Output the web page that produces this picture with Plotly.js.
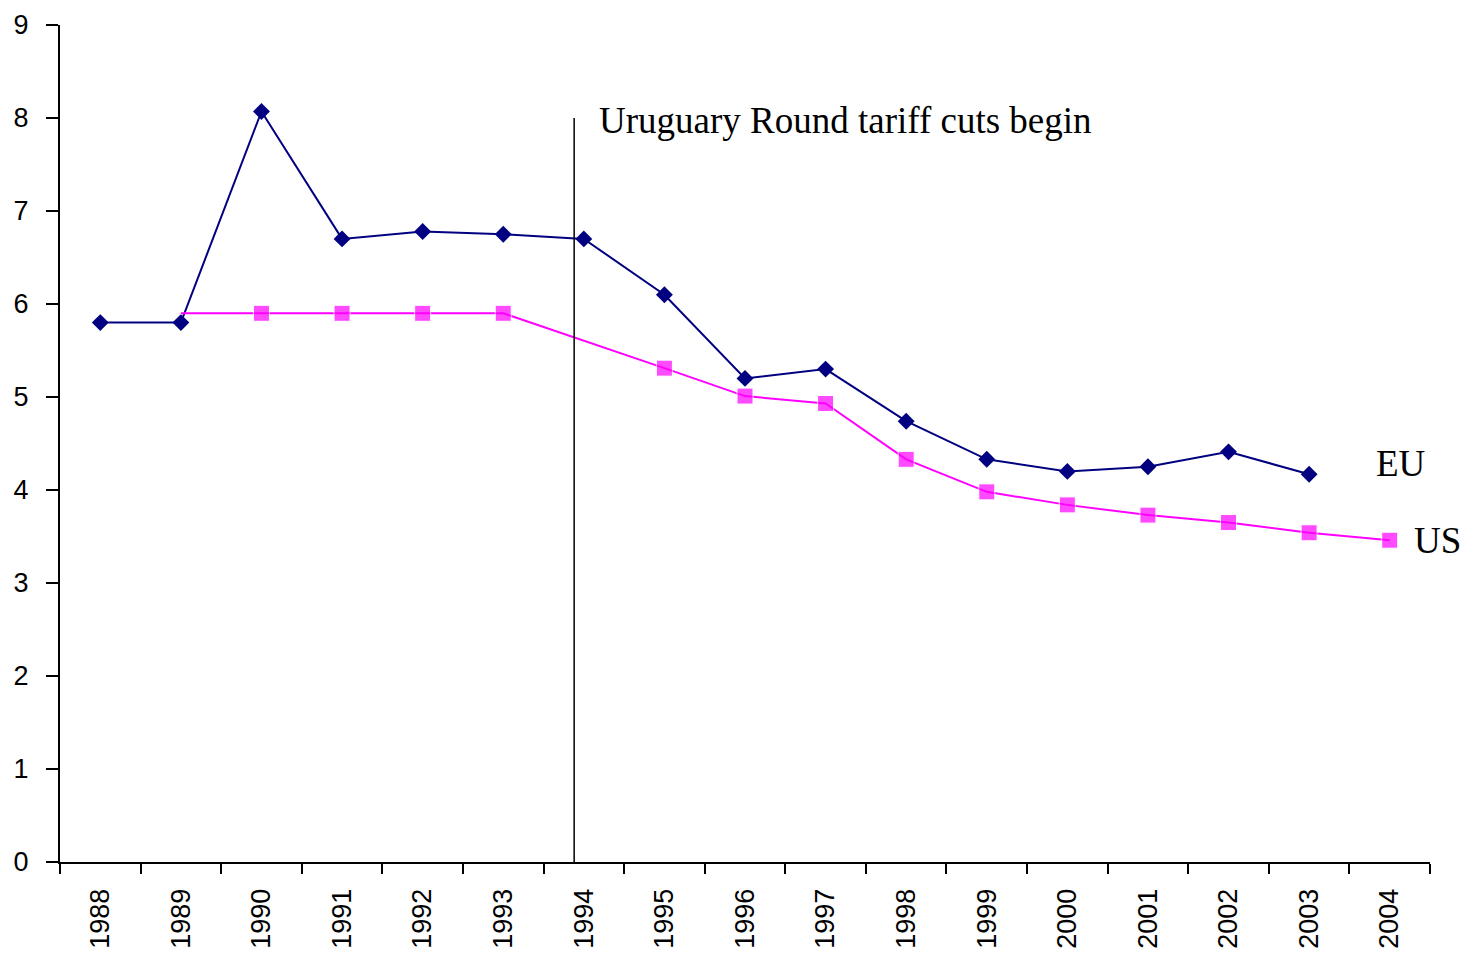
<!DOCTYPE html>
<html>
<head>
<meta charset="utf-8">
<script src="https://cdn.plot.ly/plotly-3.0.1.min.js"></script>
<style>html,body{margin:0;padding:0;background:#fff;}#chart{width:1465px;height:962px;}</style>
</head>
<body>
<div id="chart"></div>
<script>
const years = ["1988","1989","1990","1991","1992","1993","1994","1995","1996","1997","1998","1999","2000","2001","2002","2003","2004"];
const euValues = [5.8, 5.8, 8.07, 6.7, 6.78, 6.75, 6.7, 6.1, 5.2, 5.3, 4.74, 4.33, 4.2, 4.25, 4.41, 4.17, null];
const usValues = [null, 5.9, 5.9, 5.9, 5.9, 5.9, null, 5.31, 5.01, 4.93, 4.33, 3.98, 3.84, 3.73, 3.65, 3.54, 3.46];
const seriesNames = ["EU", "US"];
const eventLabel = "Uruguary Round tariff cuts begin";
const eventPosition = 5.88;   // category-axis position of the vertical marker (just left of 1994)
const eventTop = 8;

// US marker not drawn for the first year of its line
const usMarkerSizes = usValues.map((v, i) => (i === 1 ? 0 : 16));

const traces = [
  {
    x: years, y: euValues, type: "scatter", mode: "lines+markers", name: seriesNames[0],
    line: {color: "#000080", width: 2},
    marker: {symbol: "diamond", size: 13, color: "#000080"},
    connectgaps: false, cliponaxis: false
  },
  {
    x: years, y: usValues, type: "scatter", mode: "lines+markers", name: seriesNames[1],
    line: {color: "#FF00FF", width: 2},
    marker: {symbol: "square", size: usMarkerSizes, color: "#FF00FF"},
    connectgaps: true, cliponaxis: false
  }
];

const euLast = euValues.reduce((a, v, i) => (v !== null ? i : a), 0);
const usLast = usValues.reduce((a, v, i) => (v !== null ? i : a), 0);
const labelFont = {family: "Liberation Serif, Times New Roman", size: 37, color: "#000"};

const layout = {
  width: 1465, height: 962,
  margin: {l: 60, r: 35, t: 25, b: 100},
  paper_bgcolor: "#fff", plot_bgcolor: "#fff",
  showlegend: false,
  xaxis: {
    type: "category", range: [-0.5, years.length - 0.5],
    tickson: "boundaries", ticks: "outside", ticklen: 10, tickwidth: 2, tickcolor: "#000",
    tickangle: -90, ticklabelstandoff: 14,
    tickfont: {family: "Liberation Sans, Arial", size: 27, color: "#000"},
    showline: true, linecolor: "#000", linewidth: 2, showgrid: false, zeroline: false, fixedrange: true
  },
  yaxis: {
    range: [0, 9], dtick: 1, tick0: 0, ticks: "outside", ticklen: 12, tickwidth: 2, tickcolor: "#000",
    ticklabelstandoff: 12,
    tickfont: {family: "Liberation Sans, Arial", size: 27, color: "#000"},
    showline: true, linecolor: "#000", linewidth: 2, showgrid: false, zeroline: false, fixedrange: true
  },
  shapes: [
    {type: "line", xref: "x", yref: "y", x0: eventPosition, x1: eventPosition, y0: 0, y1: eventTop,
     line: {color: "#000", width: 1.5}}
  ],
  annotations: [
    {text: eventLabel, xref: "x", yref: "y", x: eventPosition + 0.28, y: eventTop - 0.03,
     xanchor: "left", yanchor: "middle", showarrow: false, font: labelFont},
    {text: seriesNames[0], xref: "x", yref: "y", x: euLast + 0.8, y: euValues[euLast] + 0.12,
     xanchor: "left", yanchor: "middle", showarrow: false, font: labelFont},
    {text: seriesNames[1], xref: "x", yref: "y", x: usLast + 0.28, y: usValues[usLast],
     xanchor: "left", yanchor: "middle", showarrow: false, font: labelFont}
  ]
};

Plotly.newPlot("chart", traces, layout, {displayModeBar: false, staticPlot: true});
</script>
</body>
</html>
